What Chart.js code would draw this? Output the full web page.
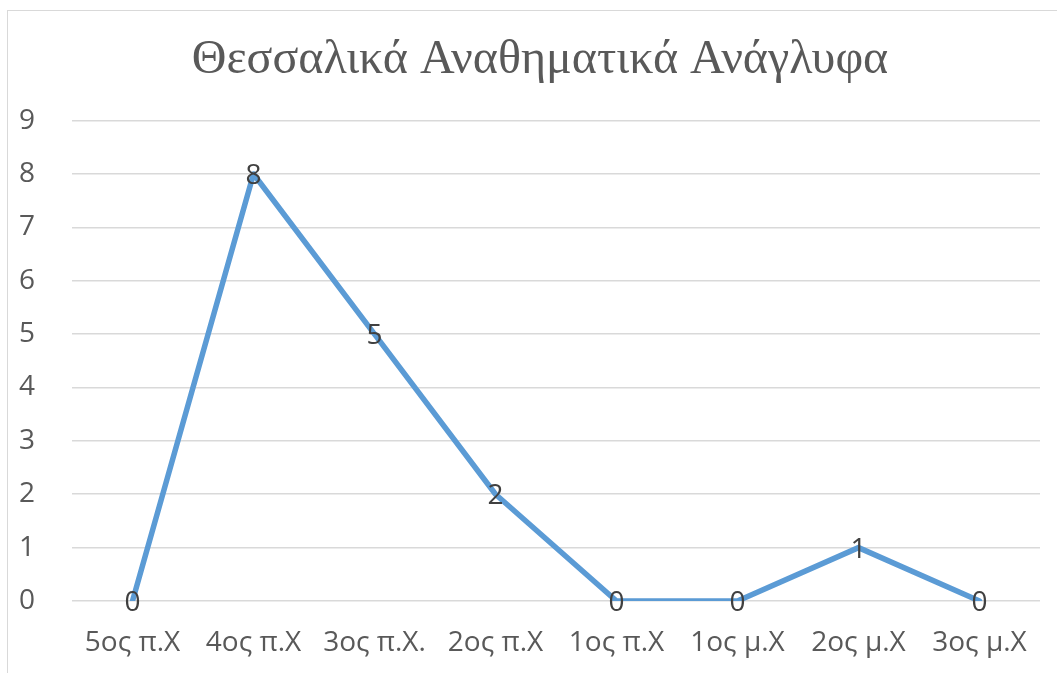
<!DOCTYPE html>
<html>
<head>
<meta charset="utf-8">
<script src="https://cdn.jsdelivr.net/npm/chart.js@4/dist/chart.umd.min.js"></script>
<style>
  html, body { margin: 0; padding: 0; background: #ffffff; }
  #wrap { position: relative; width: 1057px; height: 673px; overflow: hidden; }
  #frame { position: absolute; left: 7px; top: 10px; width: 1100px; height: 700px; border: 1px solid #d9d9d9; box-sizing: border-box; pointer-events: none; }
  canvas { position: absolute; left: 0; top: 0; }
</style>
</head>
<body>
<div id="wrap">
  <canvas id="chart" width="1057" height="673"></canvas>
  <div id="frame"></div>
</div>
<script>
const title = "Θεσσαλικά Αναθηματικά Ανάγλυφα";
const centuries = ["5ος π.Χ", "4ος π.Χ", "3ος π.Χ.", "2ος π.Χ", "1ος π.Χ", "1ος μ.Χ", "2ος μ.Χ", "3ος μ.Χ"];
const counts = [0, 8, 5, 2, 0, 0, 1, 0];

const tickFont = { family: "Open Sans", size: 28 };

// labels drawn on top of each point, like the data labels in the original
const pointLabels = {
  id: "pointLabels",
  afterDatasetsDraw(chart) {
    const ctx = chart.ctx;
    const meta = chart.getDatasetMeta(0);
    ctx.save();
    ctx.font = "28px 'Open Sans'";
    ctx.fillStyle = "#404040";
    ctx.textAlign = "center";
    ctx.textBaseline = "middle";
    meta.data.forEach((pt, i) => {
      ctx.fillText(String(counts[i]), pt.x, pt.y + 2);
    });
    ctx.restore();
  },
};

// the title sits a bit right of the canvas centre in the original
const shiftTitle = {
  id: "shiftTitle",
  afterLayout(chart) {
    if (chart.titleBlock) chart.titleBlock.left = 40;
  },
};

new Chart(document.getElementById("chart"), {
  type: "line",
  data: {
    labels: centuries,
    datasets: [
      {
        data: counts,
        borderColor: "#5b9bd5",
        borderWidth: 5.5,
        borderJoinStyle: "round",
        borderCapStyle: "round",
        pointRadius: 0,
        tension: 0,
        fill: false,
      },
    ],
  },
  options: {
    responsive: false,
    animation: false,
    layout: { padding: { left: 0, right: 17, top: 0, bottom: 0 } },
    plugins: {
      legend: { display: false },
      tooltip: { enabled: false },
      title: {
        display: true,
        text: title,
        color: "#595959",
        font: { family: "Liberation Serif", size: 48, weight: "normal", lineHeight: 1.2 },
        padding: { top: 32, bottom: 31 },
      },
    },
    scales: {
      x: {
        offset: true,
        grid: { display: false, drawTicks: false },
        border: { display: false },
        ticks: { color: "#595959", font: tickFont, padding: 25, maxRotation: 0, autoSkip: false },
        afterFit: (s) => { s.height = 72; },
      },
      y: {
        min: 0,
        max: 9,
        ticks: { stepSize: 1, color: "#595959", font: tickFont, padding: 37 },
        grid: { color: "#d9d9d9", lineWidth: 1.5, drawTicks: false },
        border: { display: false },
        afterFit: (s) => { s.width = 72; },
      },
    },
  },
  plugins: [pointLabels, shiftTitle],
});
</script>
</body>
</html>
